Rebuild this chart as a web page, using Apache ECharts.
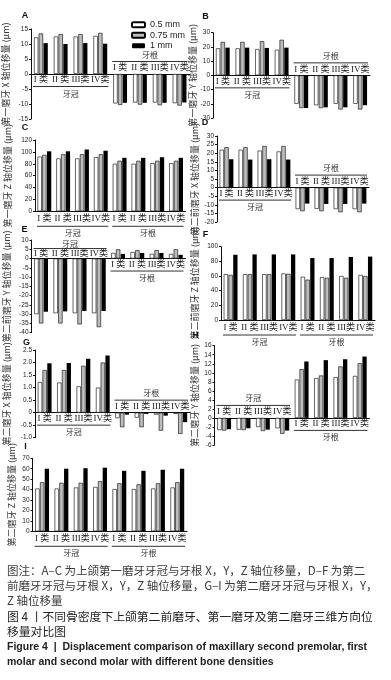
<!DOCTYPE html>
<html>
<head>
<meta charset="utf-8">
<script src="https://cdn.jsdelivr.net/npm/echarts@6/dist/echarts.min.js"></script>
<style>
  html, body { margin: 0; padding: 0; background: #fff; }
  #main { width: 391px; height: 680px; }
</style>
</head>
<body>
<div id="main"></div>
<script>
// 图例 / 分类
var seriesNames = ['0.5 mm', '0.75 mm', '1 mm'];
var groupNames = ['牙冠', '牙根'];
var classLabels = ['I 类', 'II 类', 'III类', 'IV类'];
var categories = ['冠I', '冠II', '冠III', '冠IV', '根I', '根II', '根III', '根IV'];

// 每个面板: [0.5 mm], [0.75 mm], [1 mm]
var dataA = [
  [12.2, 12.5, 12.5, 12.7, -9.8, -9.5, -9.5, -9.7],
  [13.5, 13.3, 13.3, 13.7, -10.3, -10.2, -10.4, -10.5],
  [10.3, 10.0, 10.3, 10.1, -9.6, -9.6, -9.6, -9.5]
];
var dataB = [
  [19, 19, 18.5, 18, -20, -21, -20, -20],
  [23.5, 23.5, 24, 25, -23, -23, -24, -24],
  [19.5, 19.5, 19.3, 19.5, -23, -22.5, -22.5, -21]
];
var dataC = [
  [92, 89, 89, 91, 80, 80, 81, 81],
  [95, 96, 96, 96, 85, 85, 85, 85],
  [101, 101, 104, 102, 90, 90, 91, 90]
];
var dataD = [
  [22, 22, 21.5, 21, -12.5, -12.3, -12.5, -12.5],
  [23.5, 23.5, 24.2, 24.2, -13.7, -13.7, -14.3, -14.3],
  [16.5, 16.3, 16.5, 16.3, -9.3, -9.5, -9.5, -9.3]
];
var dataE = [
  [-30, -29.5, -29.5, -29.5, 3, 3.5, 2.5, 2.5],
  [-35, -35, -35.5, -37, 5, 4.5, 4.5, 5],
  [-28.7, -28.5, -28.3, -28.3, 2.5, 3, 3, 2]
];
var dataF = [
  [62.5, 62.5, 62.5, 63.5, 59, 58.5, 60, 61.5],
  [61.5, 62.5, 62.5, 63, 55, 57.5, 57.5, 60],
  [89, 89.5, 89.5, 89.5, 84.5, 84.5, 86, 86.5]
];
var dataG = [
  [1.22, 1.2, 1.05, 1.0, -0.22, -0.2, -0.08, -0.05],
  [1.7, 1.7, 1.87, 2.0, -0.58, -0.58, -0.72, -0.85],
  [1.97, 1.98, 2.15, 2.28, -0.08, -0.05, -0.12, -0.38]
];
var dataH = [
  [-2.7, -2.6, -2.0, -2.3, 8.5, 8.8, 9.0, 9.3],
  [-2.8, -2.7, -2.9, -3.5, 10.8, 9.4, 11.4, 12.1],
  [-2.5, -2.3, -2.6, -2.8, 12.5, 12.8, 13.0, 13.6]
];
var dataI = [
  [41, 41, 42, 42.5, 40.5, 40.5, 41, 42],
  [47, 46.5, 46.5, 48, 46, 45, 46, 47],
  [60, 60, 60.5, 61, 58, 58, 59, 60]
];

// y轴 [min, max, interval]
var ticksA = [-15, 15, 5];
var ticksB = [-30, 30, 10];
var ticksC = [0, 120, 20];
var ticksD = [-20, 30, 5];
var ticksE = [-40, 10, 5];
var ticksF = [0, 100, 20];
var ticksG = [-1, 2.5, 0.5];
var ticksH = [-6, 16, 2];
var ticksI = [0, 70, 10];

var yNames = [
  '第一磨牙 X 轴位移量 (μm)', '第一磨牙 Y 轴位移量 (μm)', '第一磨牙 Z 轴位移量 (μm)',
  '第二前磨牙 X 轴位移量 (μm)', '第二前磨牙 Y 轴位移量 (μm)', '第二前磨牙 Z 轴位移量 (μm)',
  '第二磨牙 X 轴位移量 (μm)', '第二磨牙 Y 轴位移量 (μm)', '第二磨牙 Z 轴位移量 (μm)'
];

var captionLines = [
  '图注：A–C 为上颌第一磨牙牙冠与牙根 X，Y，Z 轴位移量，D–F 为第二',
  '前磨牙牙冠与牙根 X，Y，Z 轴位移量，G–I 为第二磨牙牙冠与牙根 X，Y，',
  'Z 轴位移量'
];
var titleLines = ['图 4 丨不同骨密度下上颌第二前磨牙、第一磨牙及第二磨牙三维方向位', '移量对比图'];
var titleEnLines = ['Figure 4  |  Displacement comparison of maxillary second premolar, first',
  'molar and second molar with different bone densities'];

// 布局
var panels = [
  {tag: 'A', data: dataA, ticks: ticksA, left: 31, top: 29, width: 158.5, height: 90, nameX: 6, tagX: 25, tagY: 16},
  {tag: 'B', data: dataB, ticks: ticksB, left: 213, top: 32.7, width: 157, height: 85.3, nameX: 195, tagX: 205.5, tagY: 16.5},
  {tag: 'C', data: dataC, ticks: ticksC, left: 35, top: 140, width: 150.5, height: 71.3, nameX: 7.5, tagX: 25, tagY: 127.5},
  {tag: 'D', data: dataD, ticks: ticksD, left: 217, top: 136, width: 152, height: 86, nameX: 195, tagX: 205, tagY: 122.5},
  {tag: 'E', data: dataE, ticks: ticksE, left: 31.5, top: 240, width: 154, height: 92.7, nameX: 6.5, tagX: 24.5, tagY: 230,
    offsets: [[4.6, 10, 14.6], null]},
  {tag: 'F', data: dataF, ticks: ticksF, left: 221, top: 246.7, width: 154, height: 73.3, nameX: 195, tagX: 205.5, tagY: 235},
  {tag: 'G', data: dataG, ticks: ticksG, left: 35, top: 350, width: 155, height: 87.7, nameX: 6.5, tagX: 26.5, tagY: 342.5},
  {tag: 'H', data: dataH, ticks: ticksH, left: 214.5, top: 345.7, width: 155, height: 99.3, nameX: 195, tagX: 195.5, tagY: 335.5},
  {tag: 'I', data: dataI, ticks: ticksI, left: 32.5, top: 458.3, width: 154.5, height: 73, nameX: 12, tagX: 25.5, tagY: 446.5}
];

var barColors = ['#ffffff', '#bdbdbd', '#000000'];

var chart = echarts.init(document.getElementById('main'));

var grids = [], xAxes = [], yAxes = [], series = [];
panels.forEach(function (p, i) {
  grids.push({left: p.left, top: p.top, width: p.width, height: p.height});
  xAxes.push({
    type: 'category', gridIndex: i, data: categories,
    axisLine: {onZero: true, lineStyle: {color: '#111', width: 1}},
    axisTick: {show: false}, axisLabel: {show: false}
  });
  yAxes.push({
    type: 'value', gridIndex: i,
    min: p.ticks[0], max: p.ticks[1], interval: p.ticks[2],
    splitLine: {show: false},
    axisLine: {show: true, onZero: false, lineStyle: {color: '#111', width: 1}},
    axisTick: {show: true, length: 2, lineStyle: {color: '#111'}},
    axisLabel: {
      fontSize: 6.5, color: '#222', margin: 3, fontFamily: 'Liberation Sans',
      formatter: function (v) {
        if (p.ticks[2] < 1 && v !== 0) return v.toFixed(1);
        return String(v);
      }
    },
    name: yNames[i], nameLocation: 'middle', nameRotate: 90,
    nameGap: p.left - p.nameX - 4.5,
    nameTextStyle: {fontSize: 9, color: '#333', fontFamily: 'Noto Sans CJK SC'}
  });
  for (var s = 0; s < 3; s++) {
    series.push({
      type: 'bar', name: seriesNames[s], xAxisIndex: i, yAxisIndex: i,
      data: p.data[s], barWidth: 4.3, barGap: '10%',
      itemStyle: {color: barColors[s], borderColor: '#000', borderWidth: s === 2 ? 0 : 0.6},
      silent: true
    });
  }
});

chart.setOption({
  animation: false,
  legend: {
    data: seriesNames, orient: 'vertical', left: 126, top: 15,
    itemWidth: 13, itemHeight: 5, itemGap: 1,
    textStyle: {fontSize: 9, color: '#222', fontFamily: 'Liberation Sans', lineHeight: 9.5},
    selectedMode: false
  },
  grid: grids,
  xAxis: xAxes,
  yAxis: yAxes,
  series: series
});

// 分组标注
var els = [];
function addText(x, y, str, size, font, fill, weight, align) {
  els.push({
    type: 'text', x: x, y: y, silent: true,
    style: {text: str, fontSize: size, fontFamily: font, fill: fill || '#222',
      fontWeight: weight || 'normal', align: align || 'center', verticalAlign: 'middle'}
  });
}
panels.forEach(function (p, i) {
  var zeroY = chart.convertToPixel({gridIndex: i}, [0, 0])[1];
  var band = p.width / categories.length;
  var allPos = p.data.every(function (row) { return row.every(function (v) { return v >= 0; }); });
  [0, 1].forEach(function (g) {
    var sign = p.data[0][g * 4] >= 0 ? 1 : -1;
    var off = (p.offsets && p.offsets[g]) || (allPos ? [7.5, 15, 22] : [6, 12.5, 19.5]);
    var xs = [];
    for (var k = 0; k < 4; k++) {
      xs.push(chart.convertToPixel({gridIndex: i}, [g * 4 + k, 0])[0]);
    }
    xs.forEach(function (x, k) {
      addText(x, zeroY + sign * off[0], classLabels[k], 9, 'Liberation Serif, Noto Sans CJK SC', '#222');
    });
    els.push({
      type: 'line', silent: true,
      shape: {x1: xs[0] - band / 2 + 2, y1: zeroY + sign * off[1], x2: xs[3] + band / 2 - 2, y2: zeroY + sign * off[1]},
      style: {stroke: '#333', lineWidth: 1}
    });
    addText((xs[0] + xs[3]) / 2, zeroY + sign * off[2], groupNames[g], 8, 'Noto Sans CJK SC', '#333');
  });
  addText(p.tagX, p.tagY, p.tag, 9, 'Liberation Sans', '#111', 'bold');
});

captionLines.forEach(function (t, k) {
  addText(7, 571 + k * 15, t, 11.5, 'Noto Sans CJK SC', '#3a3a3a', 'normal', 'left');
});
titleLines.forEach(function (t, k) {
  addText(7, 616.5 + k * 15.5, t, 11.8, 'Noto Sans CJK SC', '#222', 'normal', 'left');
});
titleEnLines.forEach(function (t, k) {
  addText(7, 647 + k * 15, t, 10.5, 'Liberation Sans', '#222', 'bold', 'left');
});

chart.setOption({graphic: {elements: els}});
</script>
</body>
</html>
